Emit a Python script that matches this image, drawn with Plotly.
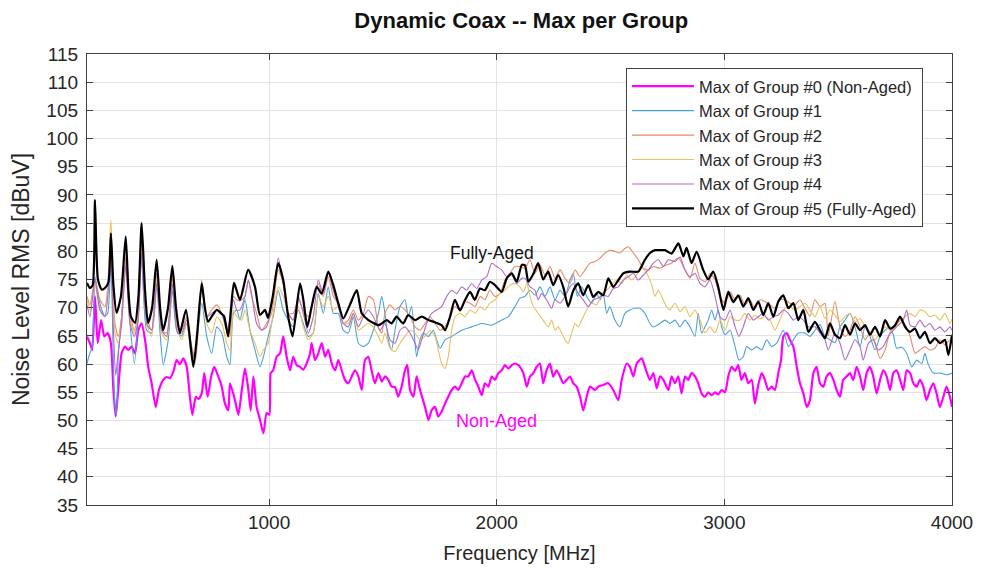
import plotly.graph_objects as go

# ---------------- data ----------------
freq_g0 = [200, 213, 223, 235, 247, 262, 276, 291, 305, 316,
           326, 337, 352, 367, 381, 396, 411, 425, 440, 455,
           469, 484, 502, 516, 535, 550, 565, 579, 594, 608,
           623, 638, 652, 663, 678, 690, 704, 715, 730, 745,
           759, 775, 792, 806, 821, 828, 850, 865, 880, 894,
           909, 919, 931, 945, 960, 975, 989, 1001, 1007, 1018,
           1033, 1048, 1062, 1077, 1092, 1106, 1121, 1136, 1150, 1165,
           1180, 1187, 1202, 1216, 1231, 1246, 1260, 1275, 1290, 1304,
           1319, 1333, 1348, 1363, 1377, 1392, 1407, 1421, 1436, 1450,
           1465, 1480, 1495, 1509, 1524, 1538, 1553, 1567, 1582, 1597,
           1607, 1619, 1634, 1648, 1663, 1685, 1700, 1714, 1729, 1743,
           1758, 1773, 1787, 1802, 1817, 1831, 1846, 1861, 1875, 1890,
           1905, 1919, 1934, 1948, 1963, 1978, 1992, 2007, 2022, 2036,
           2051, 2066, 2080, 2095, 2102, 2117, 2132, 2146, 2161, 2175,
           2190, 2204, 2219, 2234, 2248, 2263, 2278, 2292, 2307, 2322,
           2336, 2351, 2366, 2380, 2395, 2410, 2432, 2446, 2468, 2490,
           2512, 2534, 2549, 2571, 2585, 2600, 2615, 2637, 2651, 2673,
           2688, 2703, 2717, 2732, 2754, 2768, 2783, 2798, 2812, 2827,
           2841, 2856, 2871, 2885, 2900, 2915, 2929, 2944, 2959, 2973,
           2988, 3003, 3017, 3032, 3047, 3061, 3075, 3090, 3105, 3120,
           3134, 3149, 3164, 3178, 3193, 3208, 3222, 3237, 3249, 3259,
           3274, 3288, 3303, 3318, 3332, 3347, 3362, 3376, 3391, 3405,
           3420, 3435, 3449, 3464, 3479, 3493, 3508, 3522, 3537, 3552,
           3566, 3581, 3596, 3610, 3625, 3640, 3654, 3669, 3684, 3698,
           3713, 3728, 3742, 3757, 3772, 3786, 3801, 3816, 3830, 3845,
           3859, 3874, 3888, 3903, 3918, 3932, 3947, 3962, 3976, 3991,
           4000]
level_g0 = [64.9, 63.7, 62.5, 72.0, 63.7, 67.8, 64.9, 65.5, 63.7, 55.4,
            50.7, 55.4, 61.9, 63.1, 62.5, 63.1, 61.9, 66.0, 67.2, 64.3,
            59.5, 56.6, 52.4, 55.4, 57.2, 57.7, 57.5, 58.6, 60.7, 60.0,
            61.0, 59.5, 54.2, 51.0, 54.2, 53.8, 54.8, 58.4, 54.2, 57.7,
            59.5, 58.0, 56.0, 53.0, 51.8, 56.6, 53.6, 51.0, 55.4, 59.2,
            55.4, 51.8, 57.8, 52.4, 50.1, 47.7, 51.3, 51.0, 58.4, 58.9,
            61.3, 61.9, 64.9, 61.3, 58.9, 61.3, 59.8, 59.5, 59.0, 60.1,
            61.9, 63.7, 60.7, 61.9, 63.7, 61.3, 62.5, 60.1, 58.9, 60.7,
            58.9, 57.2, 56.6, 57.8, 58.9, 57.8, 55.4, 60.7, 61.3, 58.9,
            56.6, 58.4, 56.9, 57.8, 57.2, 56.0, 55.9, 54.2, 56.0, 58.9,
            59.8, 55.4, 54.2, 57.8, 55.4, 52.4, 50.1, 51.8, 52.4, 50.7,
            51.6, 53.0, 54.2, 55.4, 56.0, 55.4, 56.6, 57.8, 57.8, 58.9,
            57.2, 56.0, 54.5, 56.6, 56.0, 57.8, 57.2, 58.4, 58.9, 59.8,
            59.2, 59.8, 60.1, 59.8, 59.5, 58.4, 56.0, 57.8, 58.4, 59.5,
            60.1, 56.6, 58.9, 60.1, 57.8, 58.9, 57.8, 56.6, 57.2, 57.8,
            56.6, 56.0, 54.2, 51.8, 54.2, 56.0, 55.4, 56.0, 56.3, 56.6,
            55.4, 53.6, 57.2, 60.1, 59.5, 57.8, 60.1, 61.0, 59.5, 57.2,
            58.4, 55.7, 57.8, 57.2, 55.4, 57.8, 56.6, 57.8, 54.8, 57.8,
            57.2, 58.4, 57.8, 56.6, 54.8, 54.2, 55.0, 54.5, 55.0, 54.6,
            55.4, 55.0, 57.8, 59.5, 58.8, 59.8, 57.2, 58.4, 56.6, 57.2,
            53.0, 56.3, 58.4, 57.2, 55.4, 56.0, 55.4, 58.4, 60.7, 64.9,
            65.5, 64.3, 63.1, 59.5, 56.6, 54.8, 52.4, 53.6, 58.4, 59.5,
            56.6, 56.0, 57.8, 58.4, 57.2, 55.4, 54.2, 57.2, 57.8, 58.4,
            57.2, 59.5, 57.8, 55.4, 58.4, 59.5, 57.8, 54.8, 57.2, 58.9,
            57.8, 55.4, 58.4, 58.9, 57.2, 55.4, 58.9, 58.4, 56.6, 56.0,
            57.2, 56.0, 53.6, 55.4, 56.6, 54.8, 52.4, 54.2, 56.0, 54.2,
            52.4]

freq_g1 = [200, 213, 223, 235, 250, 265, 279, 291, 305, 316,
           323, 330, 337, 352, 370, 389, 408, 425, 440, 462,
           484, 506, 521, 535, 557, 575, 594, 616, 638, 657,
           671, 704, 726, 748, 770, 792, 814, 828, 843, 858,
           872, 894, 916, 938, 960, 975, 996, 1018, 1040, 1062,
           1084, 1106, 1128, 1150, 1172, 1194, 1216, 1238, 1260, 1282,
           1304, 1326, 1348, 1370, 1392, 1414, 1436, 1458, 1480, 1495,
           1509, 1524, 1538, 1553, 1575, 1597, 1611, 1626, 1641, 1648,
           1663, 1677, 1700, 1721, 1736, 1751, 1773, 1802, 1846, 1890,
           1934, 1978, 2022, 2051, 2080, 2102, 2124, 2146, 2168, 2190,
           2212, 2234, 2256, 2278, 2300, 2322, 2336, 2354, 2373, 2395,
           2417, 2439, 2454, 2468, 2483, 2497, 2519, 2541, 2563, 2585,
           2607, 2629, 2651, 2673, 2688, 2717, 2739, 2761, 2783, 2805,
           2827, 2849, 2871, 2885, 2900, 2915, 2929, 2944, 2959, 2973,
           2988, 3003, 3025, 3047, 3064, 3083, 3098, 3120, 3142, 3164,
           3186, 3208, 3230, 3244, 3259, 3281, 3303, 3325, 3354, 3376,
           3398, 3420, 3442, 3464, 3486, 3508, 3530, 3552, 3574, 3596,
           3618, 3640, 3662, 3684, 3706, 3728, 3742, 3757, 3779, 3801,
           3823, 3845, 3867, 3881, 3896, 3918, 3947, 3976, 4000]
level_g1 = [60.1, 62.0, 63.0, 75.5, 72.0, 69.6, 68.5, 69.0, 77.9, 60.0,
            52.4, 51.0, 61.3, 68.4, 78.5, 67.2, 60.1, 68.4, 79.0, 66.0,
            65.5, 73.7, 65.5, 59.9, 64.3, 73.1, 66.0, 65.0, 67.2, 62.5,
            61.3, 70.8, 64.9, 61.9, 66.6, 65.5, 61.3, 59.9, 69.0, 69.6,
            67.8, 71.4, 66.0, 62.5, 59.5, 61.3, 64.9, 68.4, 73.1, 69.6,
            67.8, 66.6, 69.6, 67.2, 64.9, 65.5, 72.5, 69.0, 73.7, 69.0,
            69.0, 66.0, 65.5, 68.4, 63.7, 63.1, 63.7, 66.0, 69.0, 72.0,
            69.0, 64.3, 62.5, 66.0, 70.2, 71.4, 68.4, 70.2, 63.7, 61.3,
            64.3, 65.5, 64.9, 66.0, 64.3, 62.8, 64.3, 64.9, 66.0, 66.6,
            67.2, 66.9, 67.8, 68.4, 70.2, 71.7, 72.0, 73.1, 72.2, 73.7,
            72.0, 73.7, 71.4, 73.1, 72.0, 74.9, 76.1, 72.0, 73.7, 72.0,
            70.8, 72.5, 71.4, 72.5, 69.0, 70.2, 67.8, 66.6, 69.0, 69.6,
            69.9, 69.9, 69.0, 67.2, 66.6, 67.2, 67.8, 67.2, 67.8, 66.6,
            67.8, 66.6, 64.9, 69.0, 65.5, 66.6, 67.8, 69.6, 67.8, 69.6,
            66.6, 65.2, 66.0, 63.1, 60.7, 61.3, 63.1, 62.5, 63.1, 62.5,
            64.3, 63.1, 63.7, 64.9, 66.0, 63.1, 64.3, 65.5, 65.5, 64.9,
            66.0, 67.0, 64.9, 64.3, 63.8, 66.6, 67.8, 69.0, 66.6, 63.1,
            66.6, 64.9, 62.5, 64.9, 66.0, 66.6, 65.2, 62.8, 63.0, 61.9,
            59.5, 60.7, 60.1, 61.9, 59.9, 58.4, 58.4, 58.1, 58.4]

freq_g2 = [200, 213, 235, 257, 279, 305, 323, 337, 352, 370,
           389, 408, 425, 440, 462, 484, 506, 528, 550, 575,
           598, 616, 638, 660, 675, 704, 726, 748, 770, 792,
           814, 828, 843, 858, 872, 894, 909, 923, 945, 967,
           989, 1011, 1040, 1062, 1084, 1106, 1128, 1150, 1172, 1194,
           1216, 1238, 1260, 1282, 1304, 1326, 1348, 1370, 1392, 1414,
           1436, 1458, 1480, 1495, 1509, 1531, 1553, 1575, 1597, 1619,
           1641, 1663, 1685, 1707, 1729, 1751, 1773, 1795, 1817, 1839,
           1861, 1883, 1905, 1927, 1948, 1970, 1992, 2014, 2036, 2058,
           2080, 2102, 2124, 2146, 2168, 2190, 2212, 2234, 2256, 2278,
           2300, 2322, 2344, 2366, 2388, 2410, 2432, 2454, 2476, 2497,
           2519, 2541, 2563, 2578, 2600, 2622, 2644, 2666, 2688, 2717,
           2746, 2768, 2798, 2827, 2849, 2871, 2893, 2915, 2937, 2959,
           2981, 3003, 3025, 3047, 3069, 3090, 3112, 3134, 3156, 3178,
           3200, 3222, 3244, 3266, 3288, 3310, 3332, 3354, 3376, 3398,
           3420, 3442, 3456, 3486, 3508, 3530, 3552, 3574, 3596, 3618,
           3640, 3662, 3684, 3706, 3728, 3750, 3772, 3794, 3816, 3838,
           3859, 3881, 3903, 3925, 3947, 3969, 3991, 4000]
level_g2 = [72.0, 70.5, 75.0, 71.4, 70.2, 79.0, 67.2, 64.9, 68.4, 79.0,
            69.0, 66.0, 69.0, 82.0, 68.4, 66.0, 76.1, 66.0, 65.5, 75.5,
            66.6, 66.0, 68.4, 63.1, 61.3, 74.9, 68.4, 69.6, 70.5, 69.0,
            66.0, 64.9, 72.0, 71.4, 71.2, 72.0, 74.9, 72.0, 69.0, 66.0,
            67.2, 69.0, 76.7, 74.3, 69.0, 69.0, 71.4, 69.6, 68.4, 71.4,
            74.3, 72.0, 75.5, 72.0, 70.8, 67.2, 67.8, 69.6, 67.8, 69.0,
            72.0, 71.4, 66.6, 65.5, 69.0, 70.5, 69.6, 70.2, 69.6, 68.4,
            66.6, 66.0, 67.2, 68.4, 67.2, 66.0, 66.6, 68.4, 70.2, 69.6,
            71.1, 70.8, 70.2, 72.0, 71.4, 73.1, 72.0, 72.5, 74.9, 76.1,
            77.3, 77.3, 77.0, 78.5, 76.1, 77.6, 75.8, 77.3, 75.2, 76.7,
            75.2, 74.3, 76.7, 75.5, 76.7, 77.9, 78.2, 78.8, 79.7, 80.2,
            80.0, 79.7, 80.5, 80.8, 79.7, 78.5, 77.0, 76.7, 77.3, 77.0,
            77.6, 77.9, 78.8, 76.7, 75.2, 77.9, 75.2, 74.6, 76.1, 74.9,
            72.0, 70.8, 72.8, 71.4, 72.2, 70.5, 71.4, 69.9, 71.4, 71.1,
            70.5, 69.9, 71.4, 71.4, 70.8, 70.5, 71.4, 69.9, 68.5, 71.4,
            70.2, 70.8, 65.0, 71.1, 66.6, 64.9, 66.0, 68.4, 66.6, 64.3,
            65.5, 63.7, 61.0, 62.5, 65.7, 66.6, 67.8, 67.0, 64.9, 61.9,
            62.5, 63.1, 62.5, 62.8, 64.3, 63.4, 64.3, 63.7]

freq_g3 = [200, 213, 235, 257, 279, 305, 323, 337, 352, 370,
           389, 408, 425, 440, 462, 484, 506, 528, 550, 575,
           598, 616, 638, 660, 675, 704, 726, 748, 770, 792,
           814, 828, 843, 858, 880, 894, 916, 938, 960, 975,
           996, 1018, 1040, 1062, 1084, 1106, 1128, 1150, 1172, 1194,
           1216, 1238, 1260, 1282, 1304, 1326, 1348, 1370, 1392, 1414,
           1436, 1458, 1480, 1495, 1509, 1531, 1553, 1575, 1597, 1619,
           1641, 1663, 1685, 1707, 1729, 1743, 1758, 1773, 1787, 1802,
           1817, 1839, 1861, 1883, 1905, 1927, 1948, 1970, 1992, 2014,
           2036, 2058, 2080, 2102, 2117, 2132, 2146, 2161, 2182, 2204,
           2226, 2241, 2256, 2270, 2285, 2300, 2314, 2329, 2344, 2358,
           2373, 2395, 2417, 2439, 2461, 2483, 2505, 2527, 2549, 2571,
           2593, 2615, 2637, 2659, 2681, 2695, 2710, 2724, 2746, 2761,
           2783, 2805, 2827, 2849, 2871, 2893, 2915, 2937, 2959, 2981,
           3003, 3025, 3047, 3069, 3090, 3112, 3134, 3156, 3178, 3200,
           3222, 3244, 3266, 3288, 3310, 3332, 3354, 3376, 3398, 3420,
           3442, 3464, 3486, 3508, 3530, 3552, 3574, 3596, 3618, 3640,
           3662, 3684, 3706, 3728, 3750, 3772, 3794, 3816, 3838, 3859,
           3881, 3903, 3925, 3947, 3969, 3991, 4000]
level_g3 = [71.4, 69.6, 74.0, 69.6, 68.4, 85.6, 65.5, 63.7, 67.2, 77.0,
            67.8, 65.5, 68.4, 80.2, 67.2, 64.9, 74.9, 65.5, 64.3, 74.0,
            66.0, 64.3, 67.2, 61.3, 60.1, 73.7, 67.2, 65.5, 68.4, 67.2,
            63.7, 62.5, 69.6, 68.4, 67.8, 69.6, 66.0, 63.7, 61.3, 62.5,
            63.7, 69.0, 73.7, 72.0, 69.0, 67.8, 70.2, 66.6, 64.3, 65.5,
            72.0, 70.2, 72.0, 69.6, 70.2, 67.2, 67.2, 69.0, 66.0, 66.6,
            67.2, 66.5, 64.9, 63.7, 65.5, 62.8, 62.2, 63.7, 64.9, 66.0,
            65.5, 64.3, 64.9, 66.0, 64.9, 62.5, 60.1, 59.2, 61.3, 66.0,
            68.4, 69.0, 68.4, 69.6, 69.0, 70.2, 69.6, 70.8, 71.4, 72.5,
            73.1, 74.0, 74.3, 73.7, 72.8, 74.3, 72.0, 70.2, 69.0, 67.8,
            66.6, 67.8, 66.0, 66.6, 65.5, 64.3, 63.7, 65.5, 67.2, 66.6,
            67.8, 69.6, 70.8, 70.5, 72.5, 73.1, 74.0, 74.9, 74.3, 75.8,
            74.9, 75.8, 77.0, 76.1, 74.0, 72.0, 73.1, 72.0, 70.2, 69.6,
            70.8, 69.3, 70.2, 68.4, 69.6, 67.8, 65.5, 66.6, 65.5, 67.8,
            66.0, 68.4, 67.8, 67.8, 69.0, 67.8, 68.7, 68.0, 68.4, 67.8,
            66.0, 67.8, 69.9, 70.2, 69.6, 70.2, 70.8, 69.6, 68.4, 70.2,
            68.1, 69.6, 68.7, 67.5, 68.4, 69.0, 67.5, 68.1, 66.6, 65.7,
            64.3, 65.5, 66.6, 66.0, 66.6, 67.8, 68.4, 69.0, 68.4, 69.6,
            69.3, 68.4, 68.7, 67.8, 69.0, 67.2, 68.0]

freq_g4 = [200, 213, 235, 257, 279, 305, 316, 326, 337, 352,
           370, 389, 408, 425, 440, 462, 484, 506, 528, 550,
           575, 598, 616, 638, 660, 675, 704, 726, 748, 770,
           792, 814, 828, 843, 858, 872, 894, 909, 923, 945,
           967, 989, 1011, 1040, 1062, 1084, 1106, 1128, 1150, 1172,
           1194, 1216, 1238, 1260, 1282, 1304, 1326, 1348, 1370, 1392,
           1414, 1436, 1458, 1487, 1509, 1531, 1553, 1575, 1597, 1619,
           1641, 1655, 1670, 1692, 1714, 1736, 1758, 1780, 1802, 1824,
           1846, 1868, 1890, 1912, 1934, 1956, 1978, 2000, 2022, 2044,
           2066, 2088, 2110, 2124, 2146, 2168, 2182, 2197, 2219, 2241,
           2256, 2278, 2300, 2322, 2336, 2358, 2380, 2402, 2424, 2446,
           2468, 2490, 2512, 2534, 2556, 2578, 2600, 2622, 2644, 2666,
           2688, 2710, 2732, 2754, 2783, 2805, 2827, 2849, 2871, 2893,
           2915, 2937, 2959, 2981, 3003, 3025, 3047, 3064, 3083, 3105,
           3127, 3149, 3171, 3193, 3215, 3237, 3259, 3281, 3303, 3325,
           3347, 3369, 3398, 3420, 3442, 3456, 3486, 3508, 3530, 3552,
           3574, 3596, 3610, 3633, 3655, 3676, 3698, 3720, 3742, 3764,
           3786, 3801, 3816, 3838, 3859, 3881, 3903, 3925, 3947, 3969,
           3991, 4000]
level_g4 = [70.5, 68.4, 75.0, 69.6, 68.4, 78.0, 66.0, 58.0, 62.0, 67.2,
            77.5, 67.2, 64.9, 67.8, 79.5, 67.2, 66.0, 74.3, 66.0, 64.9,
            74.3, 65.5, 65.5, 67.8, 62.5, 60.7, 73.7, 68.4, 69.0, 69.6,
            69.0, 66.0, 67.8, 71.4, 69.6, 69.6, 72.0, 74.9, 72.5, 67.2,
            66.0, 66.6, 70.2, 78.8, 74.3, 69.0, 67.8, 72.0, 69.0, 65.5,
            68.4, 74.9, 72.5, 76.1, 73.1, 70.2, 67.2, 66.6, 69.0, 66.6,
            68.4, 69.6, 68.4, 66.0, 67.2, 64.3, 63.7, 66.0, 66.6, 65.5,
            63.7, 62.5, 64.3, 67.2, 69.0, 69.6, 70.2, 72.0, 73.1, 72.5,
            73.7, 73.1, 74.3, 73.4, 74.9, 75.5, 77.9, 77.3, 76.7, 75.5,
            75.8, 74.3, 75.2, 75.2, 73.7, 73.1, 71.4, 72.5, 71.4, 69.9,
            71.4, 70.8, 72.0, 73.7, 74.3, 72.5, 71.4, 70.2, 71.4, 71.7,
            72.2, 72.0, 73.4, 73.7, 74.9, 75.5, 76.1, 74.9, 75.8, 76.7,
            77.9, 78.5, 77.3, 78.5, 78.2, 79.0, 76.7, 75.5, 76.1, 74.3,
            73.7, 74.9, 72.0, 68.4, 67.8, 69.6, 66.6, 64.9, 66.6, 69.0,
            67.8, 68.4, 69.0, 67.8, 68.4, 68.7, 69.6, 69.0, 67.8, 68.4,
            67.8, 66.6, 66.6, 65.5, 64.3, 62.5, 65.5, 63.7, 60.7, 62.5,
            64.3, 63.1, 60.7, 63.7, 64.3, 62.5, 63.1, 64.9, 66.0, 66.9,
            67.8, 69.6, 66.9, 66.6, 67.8, 66.6, 67.2, 66.0, 66.6, 65.7,
            66.6, 66.0]

freq_g5 = [200, 213, 225, 235, 248, 265, 279, 294, 305, 316,
           330, 349, 370, 382, 393, 411, 426, 440, 455, 468,
           486, 506, 521, 534, 556, 575, 591, 608, 635, 667,
           683, 704, 718, 732, 749, 770, 789, 802, 820, 833,
           846, 872, 908, 938, 960, 982, 995, 1016, 1040, 1062,
           1084, 1103, 1136, 1150, 1168, 1187, 1209, 1231, 1260, 1282,
           1304, 1326, 1355, 1385, 1407, 1436, 1480, 1495, 1517, 1538,
           1560, 1589, 1611, 1641, 1670, 1700, 1729, 1758, 1773, 1795,
           1816, 1839, 1861, 1883, 1904, 1926, 1948, 1970, 1992, 2022,
           2044, 2066, 2088, 2110, 2124, 2139, 2161, 2182, 2204, 2226,
           2248, 2270, 2292, 2314, 2336, 2358, 2380, 2402, 2424, 2446,
           2468, 2490, 2512, 2534, 2556, 2585, 2622, 2651, 2673, 2695,
           2717, 2739, 2768, 2798, 2820, 2834, 2856, 2878, 2907, 2929,
           2951, 2973, 2996, 3017, 3039, 3061, 3083, 3105, 3127, 3149,
           3171, 3193, 3215, 3237, 3259, 3281, 3303, 3325, 3347, 3369,
           3398, 3420, 3442, 3464, 3486, 3508, 3530, 3552, 3574, 3596,
           3618, 3640, 3662, 3684, 3706, 3728, 3750, 3772, 3794, 3815,
           3837, 3859, 3881, 3903, 3925, 3947, 3969, 3984, 4000]
level_g5 = [74.4, 73.5, 74.0, 89.1, 75.0, 73.2, 73.5, 74.5, 83.2, 74.0,
            69.1, 72.0, 82.6, 73.0, 68.4, 67.3, 72.0, 85.0, 73.0, 67.3,
            70.0, 78.5, 70.0, 66.0, 70.0, 77.4, 70.0, 65.5, 69.6, 59.5,
            65.0, 74.3, 70.0, 67.5, 68.5, 69.6, 69.0, 68.5, 64.9, 70.0,
            74.4, 71.4, 76.7, 73.7, 68.7, 69.6, 68.2, 72.0, 77.9, 74.9,
            68.4, 64.9, 74.3, 71.5, 66.6, 70.2, 73.7, 72.5, 76.4, 74.0,
            70.8, 68.1, 70.5, 73.1, 69.0, 67.8, 66.9, 67.2, 67.8, 67.2,
            68.4, 67.2, 68.7, 67.8, 68.4, 67.8, 67.4, 66.9, 66.0, 68.4,
            71.4, 69.5, 71.4, 72.8, 71.4, 73.4, 73.1, 74.6, 74.0, 72.8,
            75.2, 76.1, 74.6, 77.6, 77.5, 74.6, 76.0, 77.9, 75.0, 76.4,
            74.0, 75.8, 73.7, 70.2, 73.0, 74.3, 72.2, 74.0, 71.9, 72.8,
            72.2, 75.2, 73.7, 74.9, 76.1, 76.4, 76.4, 78.5, 79.7, 80.2,
            80.2, 80.2, 79.6, 81.4, 79.1, 80.6, 77.9, 79.9, 76.7, 75.0,
            76.4, 73.7, 69.6, 72.8, 71.0, 72.2, 70.2, 71.7, 69.6, 71.1,
            68.7, 70.8, 68.4, 71.1, 72.2, 69.9, 70.8, 67.8, 69.6, 65.7,
            67.5, 66.0, 64.6, 67.2, 65.2, 64.6, 66.9, 65.2, 67.2, 66.0,
            66.9, 65.2, 66.6, 64.9, 67.8, 66.3, 66.9, 68.4, 66.6, 65.7,
            66.3, 64.6, 65.7, 63.7, 64.6, 63.7, 64.3, 61.6, 65.2]

series_names = ["Max of Group #0 (Non-Aged)", "Max of Group #1", "Max of Group #2",
                "Max of Group #3", "Max of Group #4", "Max of Group #5 (Fully-Aged)"]
x_ticks = [1000, 2000, 3000, 4000]
y_ticks = list(range(35, 120, 5))

# ---------------- styling ----------------
FONT = "Liberation Sans, Arial, sans-serif"
TXT = "#262626"
colors = ["#FF00FF", "#4AA2D9", "#E88A66", "#EDBF5E", "#AE6BC8", "#000000"]
widths = [2.2, 1.1, 1.1, 1.1, 1.1, 2.2]
freqs = [freq_g0, freq_g1, freq_g2, freq_g3, freq_g4, freq_g5]
levels = [level_g0, level_g1, level_g2, level_g3, level_g4, level_g5]

fig = go.Figure()
for i in range(6):
    fig.add_trace(go.Scatter(
        x=freqs[i], y=levels[i], mode="lines", name=series_names[i],
        line=dict(color=colors[i], width=widths[i], shape="spline", smoothing=0.6),
    ))

fig.add_annotation(x=1979, y=79.7, text="Fully-Aged", showarrow=False,
                   font=dict(family=FONT, size=17.5, color="#111111"))
fig.add_annotation(x=2001, y=49.9, text="Non-Aged", showarrow=False,
                   font=dict(family=FONT, size=18, color="#FF00FF"))

axis_common = dict(
    showgrid=True, gridcolor="#E3E3E3", gridwidth=1,
    showline=True, linecolor="#404040", linewidth=1.3, mirror="allticks",
    ticks="inside", ticklen=6, tickcolor="#404040", tickwidth=1,
    zeroline=False,
    tickfont=dict(family=FONT, size=19, color=TXT),
)

# the page adds an 8 px body margin, so margins are reduced by 8 px at left/top
fig.update_layout(
    width=987, height=569,
    margin=dict(l=79, r=43, t=46, b=72),
    paper_bgcolor="white", plot_bgcolor="white",
    title=dict(text="<b>Dynamic Coax -- Max per Group</b>", x=0.52, xanchor="center",
               y=1 - 12 / 569, yanchor="middle", yref="container",
               font=dict(family=FONT, size=22, color="#111111")),
    xaxis=dict(range=[200, 4000], tickvals=x_ticks,
               title=dict(text="Frequency [MHz]", font=dict(family=FONT, size=20, color=TXT),
                          standoff=14),
               **axis_common),
    yaxis=dict(range=[35, 115], tickvals=y_ticks, ticklabelstandoff=4,
               title=dict(text="Noise Level RMS [dBuV]", font=dict(family=FONT, size=23, color=TXT),
                          standoff=10),
               **axis_common),
    legend=dict(x=0.9665, xanchor="right", y=0.969, yanchor="top",
                bgcolor="white", bordercolor="#404040", borderwidth=1,
                font=dict(family=FONT, size=16.5, color=TXT),
                itemwidth=62, tracegroupgap=0),
    showlegend=True,
)

fig.write_html("out.html")
